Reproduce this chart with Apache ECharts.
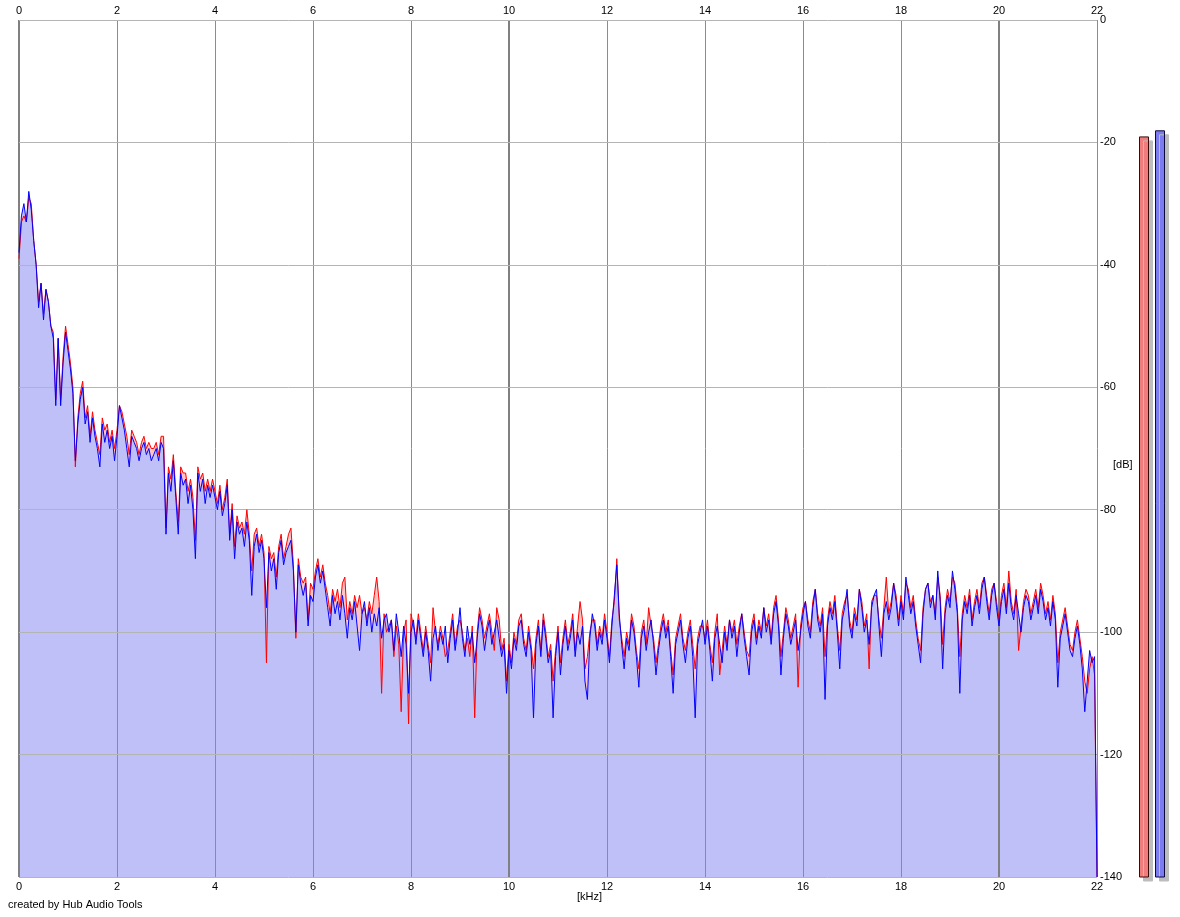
<!DOCTYPE html>
<html>
<head>
<meta charset="utf-8">
<title>Spectrum</title>
<script src="https://cdn.jsdelivr.net/npm/echarts@6/dist/echarts.min.js"></script>
<style>
  html, body { margin: 0; padding: 0; background: #fff; }
  #chart { width: 1180px; height: 917px; }
</style>
</head>
<body>
<div id="chart"></div>
<script>
// frequency bins are 0.05 kHz apart, from 0 to 22 kHz
const binStep = 0.05;

// left channel (red), dB
const leftDb = [
  -39,-33,-32,-33,-29,-30,-36,-40,-46,-43,-48,-44,-46,-50,-51,-62,-52,-62,-55,-50,
  -53,-56,-60,-73,-65,-61,-59,-65,-63,-68,-64,-67,-69,-71,-65,-67,-66,-69,-67,-70,
  -67,-63,-64,-66,-68,-71,-67,-68,-69,-71,-69,-68,-70,-69,-70,-70,-69,-71,-68,-68,
  -83,-73,-75,-71,-77,-82,-73,-74,-74,-77,-75,-78,-85,-73,-75,-74,-77,-75,-77,-75,
  -77,-79,-76,-80,-78,-75,-84,-79,-86,-81,-83,-82,-84,-80,-84,-90,-84,-83,-86,-84,
  -87,-105,-86,-88,-87,-91,-86,-84,-88,-86,-84,-83,-89,-101,-88,-91,-92,-91,-98,-92,
  -93,-90,-88,-91,-89,-92,-94,-97,-93,-95,-93,-96,-92,-91,-98,-95,-97,-94,-96,-94,
  -97,-96,-98,-95,-97,-94,-91,-95,-110,-97,-100,-99,-98,-104,-99,-102,-113,-100,-98,-115,
  -97,-99,-101,-97,-100,-103,-99,-102,-105,-96,-100,-102,-99,-101,-104,-103,-100,-97,-102,-99,
  -98,-100,-103,-101,-104,-99,-114,-100,-96,-98,-101,-99,-97,-100,-103,-96,-98,-103,-101,-108,
  -102,-105,-100,-102,-98,-97,-101,-103,-99,-102,-106,-101,-98,-103,-97,-100,-104,-102,-108,-103,
  -99,-105,-101,-98,-102,-100,-97,-103,-99,-95,-98,-106,-104,-100,-98,-98,-102,-99,-101,-97,
  -100,-104,-98,-95,-88,-98,-101,-104,-100,-102,-97,-99,-103,-106,-100,-98,-102,-96,-99,-101,
  -105,-102,-99,-97,-100,-98,-103,-107,-101,-99,-97,-101,-103,-100,-98,-102,-106,-101,-99,-99,
  -101,-98,-102,-105,-100,-97,-107,-103,-99,-102,-98,-100,-98,-102,-99,-97,-100,-103,-104,-99,
  -97,-101,-98,-100,-96,-99,-97,-101,-96,-94,-98,-104,-100,-96,-98,-101,-99,-97,-109,-99,
  -96,-95,-98,-100,-95,-93,-97,-99,-96,-104,-98,-95,-97,-94,-99,-103,-97,-95,-94,-98,
  -100,-96,-98,-93,-95,-99,-97,-106,-95,-94,-94,-98,-101,-96,-91,-97,-95,-92,-94,-98,
  -94,-97,-92,-93,-96,-94,-98,-101,-103,-96,-93,-92,-95,-94,-97,-91,-94,-102,-96,-93,
  -95,-91,-92,-96,-104,-97,-94,-96,-93,-98,-95,-93,-96,-92,-91,-94,-97,-93,-92,-95,
  -98,-94,-92,-96,-90,-95,-97,-93,-103,-99,-95,-93,-94,-97,-95,-93,-96,-92,-94,-97,
  -95,-98,-94,-97,-105,-100,-98,-96,-99,-102,-103,-100,-98,-101,-104,-108,-110,-106,-104,-107,
  -140
];

// right channel (blue), dB
const rightDb = [
  -38,-32,-30,-33,-28,-31,-36,-40,-47,-43,-49,-44,-46,-50,-52,-63,-52,-63,-56,-51,
  -54,-57,-61,-72,-66,-62,-60,-66,-64,-69,-65,-68,-70,-73,-66,-69,-67,-70,-68,-72,
  -68,-63,-65,-67,-70,-73,-68,-69,-70,-72,-70,-69,-71,-70,-72,-71,-70,-72,-69,-70,
  -84,-74,-77,-72,-78,-84,-74,-76,-75,-79,-76,-80,-88,-74,-77,-75,-79,-76,-78,-76,
  -78,-80,-77,-81,-79,-76,-85,-80,-88,-82,-84,-83,-86,-82,-85,-94,-86,-84,-87,-85,
  -88,-96,-87,-90,-88,-93,-87,-85,-89,-87,-86,-85,-90,-100,-89,-92,-94,-92,-99,-94,
  -95,-91,-89,-92,-90,-93,-96,-99,-94,-97,-95,-98,-94,-97,-101,-96,-98,-95,-99,-103,
  -97,-95,-99,-96,-100,-97,-99,-96,-101,-98,-97,-100,-98,-103,-97,-100,-104,-99,-102,-110,
  -100,-98,-102,-98,-101,-104,-100,-103,-108,-101,-99,-103,-100,-102,-99,-105,-101,-98,-103,-100,
  -96,-101,-104,-99,-102,-100,-105,-101,-97,-99,-103,-100,-98,-102,-100,-98,-101,-104,-102,-110,
  -103,-106,-101,-103,-99,-98,-102,-104,-100,-103,-114,-102,-99,-104,-98,-101,-105,-103,-114,-104,
  -100,-107,-102,-99,-103,-101,-98,-104,-100,-102,-99,-108,-111,-101,-97,-99,-103,-100,-102,-98,
  -101,-105,-99,-94,-89,-97,-102,-106,-101,-103,-98,-100,-104,-109,-101,-99,-103,-100,-98,-102,
  -107,-103,-100,-98,-101,-99,-104,-110,-102,-100,-98,-102,-105,-101,-99,-104,-114,-102,-100,-98,
  -102,-99,-103,-108,-101,-99,-102,-105,-100,-103,-98,-101,-99,-104,-100,-97,-101,-104,-107,-100,
  -98,-102,-99,-101,-96,-100,-98,-102,-97,-95,-99,-107,-101,-97,-99,-102,-100,-98,-103,-100,
  -97,-95,-99,-101,-96,-93,-98,-100,-97,-111,-99,-96,-98,-95,-100,-106,-98,-96,-93,-99,
  -101,-97,-99,-93,-96,-100,-98,-102,-96,-94,-93,-99,-104,-97,-95,-98,-96,-92,-95,-99,
  -95,-98,-91,-94,-97,-95,-99,-102,-105,-97,-93,-92,-96,-94,-98,-90,-95,-106,-97,-94,
  -96,-90,-93,-97,-110,-98,-95,-97,-94,-99,-96,-94,-97,-93,-91,-95,-98,-94,-92,-96,
  -99,-95,-93,-97,-92,-96,-98,-94,-97,-100,-96,-94,-95,-98,-96,-94,-97,-93,-95,-98,
  -96,-99,-95,-98,-109,-101,-99,-97,-100,-103,-104,-101,-99,-102,-106,-113,-108,-103,-105,-104,
  -140
];

// level meters on the right (peak dB)
const meterNames = ['L', 'R'];
const meterDb = [-19.1, -18.1];
const meterColors = ['#f07c7c', '#7c7cf0'];
const meterBorders = ['#3a0a0a', '#0a0a3a'];

// axis ticks
const kHzTicks = [0, 2, 4, 6, 8, 10, 12, 14, 16, 18, 20, 22];
const dbTicks = [0, -20, -40, -60, -80, -100, -120, -140];
const strongTicks = [0, 10, 20];

const toPairs = arr => arr.map((v, i) => [+(i * binStep).toFixed(2), v]);
const leftData = toPairs(leftDb);
const rightData = toPairs(rightDb);

const font = 'Liberation Sans, Arial, sans-serif';
const chart = echarts.init(document.getElementById('chart'));

const gridLines = [
  ...kHzTicks.map(v => ({
    xAxis: v,
    lineStyle: strongTicks.includes(v)
      ? {color: '#808080', width: 2, type: 'solid'}
      : {color: '#8c8c8c', width: 1, type: 'solid'}
  })),
  ...dbTicks.map(v => ({yAxis: v, lineStyle: {color: '#b4b4b4', width: 1, type: 'solid'}}))
];

const axisLabel = {color: '#000', fontSize: 11, fontFamily: font};

const option = {
  animation: false,
  backgroundColor: '#fff',
  grid: [
    {left: 19, top: 20, width: 1078, height: 857},
    {left: 1136, top: 20, width: 32, height: 857}
  ],
  xAxis: [
    {
      type: 'value', gridIndex: 0, min: 0, max: 22, interval: 2, position: 'bottom',
      axisLine: {show: false}, axisTick: {show: false}, splitLine: {show: false},
      axisLabel: {...axisLabel, margin: 4}
    },
    {
      type: 'value', gridIndex: 0, min: 0, max: 22, interval: 2, position: 'top',
      axisLine: {show: false}, axisTick: {show: false}, splitLine: {show: false},
      axisLabel: {...axisLabel, margin: 4}
    },
    {
      type: 'category', gridIndex: 1, data: meterNames, show: false
    }
  ],
  yAxis: [
    {
      type: 'value', gridIndex: 0, min: -140, max: 0, interval: 20, position: 'right',
      axisLine: {show: false}, axisTick: {show: false}, splitLine: {show: false},
      axisLabel: {...axisLabel, margin: 3}
    },
    {type: 'value', gridIndex: 1, min: -140, max: 0, show: false}
  ],
  graphic: [
    {type: 'text', left: 1113, top: 459, style: {text: '[dB]', fill: '#000', font: '11px ' + font}},
    {type: 'text', left: 577, top: 891, style: {text: '[kHz]', fill: '#000', font: '11px ' + font}},
    {type: 'text', left: 8, top: 899, style: {text: 'created by Hub Audio Tools', fill: '#000', font: '11px ' + font}}
  ],
  series: [
    {
      name: 'L fill', type: 'line', xAxisIndex: 0, yAxisIndex: 0, data: leftData,
      showSymbol: false, silent: true, z: 1,
      lineStyle: {width: 0},
      areaStyle: {color: '#ffc4c4', opacity: 1, origin: 'start'}
    },
    {
      name: 'R fill', type: 'line', xAxisIndex: 0, yAxisIndex: 0, data: rightData,
      showSymbol: false, silent: true, z: 2,
      lineStyle: {width: 0},
      areaStyle: {color: '#c0c0f8', opacity: 1, origin: 'start'},
      markLine: {
        silent: true, symbol: 'none', z: 3, animation: false,
        label: {show: false}, data: gridLines
      }
    },
    {
      name: 'L', type: 'line', xAxisIndex: 0, yAxisIndex: 0, data: leftData,
      showSymbol: false, z: 10,
      lineStyle: {color: '#ff0000', width: 1}
    },
    {
      name: 'R', type: 'line', xAxisIndex: 0, yAxisIndex: 0, data: rightData,
      showSymbol: false, z: 11,
      lineStyle: {color: '#0000ff', width: 1}
    },
    {
      name: 'meters', type: 'custom', xAxisIndex: 2, yAxisIndex: 1,
      data: meterDb.map((v, i) => [i, v]),
      renderItem: (params, api) => {
        const i = api.value(0);
        const top = api.coord([i, api.value(1)]);
        const bottom = api.coord([i, -140]);
        return {
          type: 'rect',
          shape: {x: top[0] - 4.5, y: top[1], width: 9, height: bottom[1] - top[1]},
          style: {
            fill: meterColors[i], stroke: meterBorders[i], lineWidth: 1,
            shadowColor: '#bdbdbd', shadowOffsetX: 4, shadowOffsetY: 4, shadowBlur: 0
          }
        };
      }
    }
  ]
};

chart.setOption(option);
</script>
</body>
</html>
